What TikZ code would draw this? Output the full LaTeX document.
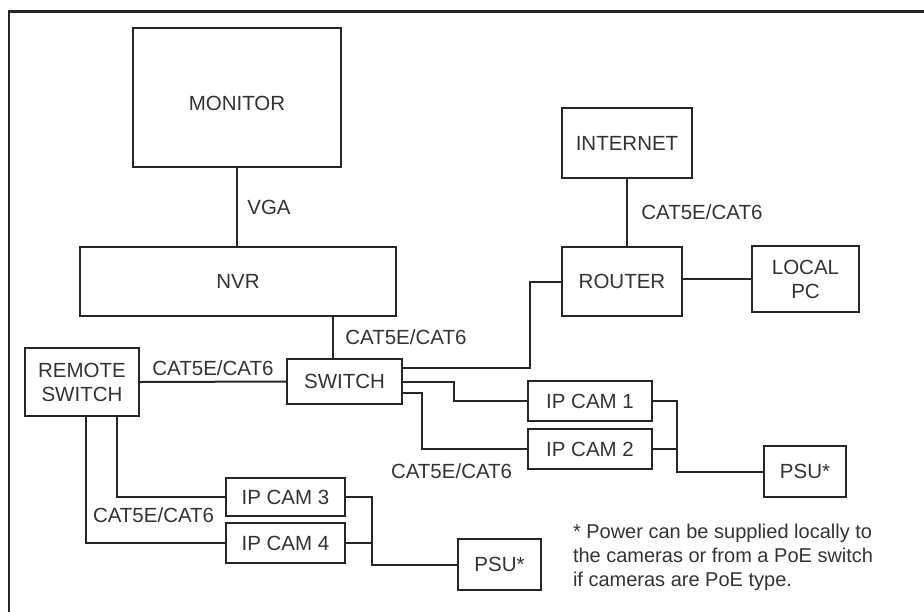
\documentclass[tikz,border=0pt]{standalone}
\usepackage{fontspec}
\setmainfont{Liberation Sans}
\usetikzlibrary{positioning,calc}
\begin{document}
\begin{tikzpicture}[x=1pt, y=-1pt, line width=2pt,
every node/.style={font=\fontsize{20.5}{24}\selectfont, text=black!80},
box/.style={draw=black!85, line width=2pt, text centered, inner sep=0pt},
nobox/.style={inner sep=2pt},
wire/.style={draw=black!85, line width=2pt}
]
\useasboundingbox (0,0) rectangle (924,611);
\draw[black!85, line width=2.2pt] (9,11.5) rectangle (940,625);

\node (monitor) [box, minimum width=208pt, minimum height=139pt, text height=27pt] at (237,97.5) {MONITOR};
\node (nvr) [box, minimum width=316pt, minimum height=69pt] at (238,281.5) {NVR};
\node (switch) [box, minimum width=115pt, minimum height=45pt] at (344.5,381.5) {SWITCH};
\node (rswitch) [box, minimum width=114pt, minimum height=68pt, align=center] at (82,382) {REMOTE\\SWITCH};
\node (internet) [box, minimum width=130pt, minimum height=70pt] at (627,143) {INTERNET};
\node (router) [box, minimum width=120pt, minimum height=69pt] at (622,281.5) {ROUTER};
\node (pc) [box, minimum width=107pt, minimum height=66pt, align=center] at (805.5,279) {LOCAL\\PC};
\node (cam1) [box, minimum width=124pt, minimum height=40pt] at (590,401) {IP CAM 1};
\node (cam2) [box, minimum width=124pt, minimum height=40pt] at (590,449) {IP CAM 2};
\node (cam3) [box, minimum width=119pt, minimum height=38pt] at (285.5,497) {IP CAM 3};
\node (cam4) [box, minimum width=119pt, minimum height=40pt] at (285.5,543) {IP CAM 4};
\node (psuA) [box, minimum width=82pt, minimum height=51pt] at (805,471.5) {PSU*};
\node (psuB) [box, minimum width=83pt, minimum height=51pt] at (499.5,564.5) {PSU*};

\coordinate (jA) at (677,471.5);
\coordinate (jB) at (372,564.5);

\node (lblcam2) [nobox, anchor=west] at (388,471) {CAT5E/CAT6};
\node (lblcam34) [nobox, anchor=west] at (90,515) {CAT5E/CAT6};
\node (note) [nobox, anchor=north west, align=left, font=\fontsize{20}{24}\selectfont] at (570,521)
  {* Power can be supplied locally to\\the cameras or from a PoE switch\\if cameras are PoE type.};

\draw[wire] (monitor.south) -- node [right=6pt] {VGA} (monitor.south |- nvr.north);
\draw[wire] (internet.south) -- node [right=10pt] {CAT5E/CAT6} (internet.south |- router.north);
\draw[wire] ([xshift=-11.5pt]switch.north) -- node [right=8pt] {CAT5E/CAT6} ([xshift=-11.5pt]switch.north |- nvr.south);
\draw[wire] (rswitch.east) -- node [above=2pt] {CAT5E/CAT6} (switch.west);
\draw[wire] (pc.west) -- (pc.west -| router.east);

\draw[wire] ([yshift=13.5pt]switch.east) -| ([xshift=-31pt]router.west) -- (router.west);
\draw[wire] (switch.east) -| ([xshift=-73pt]cam1.west) -- (cam1.west);
\draw[wire] ([yshift=-11.5pt]switch.east) -| ([xshift=-105pt]cam2.west) -- (cam2.west);

\draw[wire] ([xshift=35pt]rswitch.south) |- (cam3.west);
\draw[wire] ([xshift=4pt]rswitch.south) |- (cam4.west);

\draw[wire] (cam1.east) -| (jA) -- (psuA.west);
\draw[wire] (cam2.east) -- (cam2.east -| jA);
\draw[wire] (cam3.east) -| (jB) -- (psuB.west);
\draw[wire] (cam4.east) -- (cam4.east -| jB);

\end{tikzpicture}
\end{document}
